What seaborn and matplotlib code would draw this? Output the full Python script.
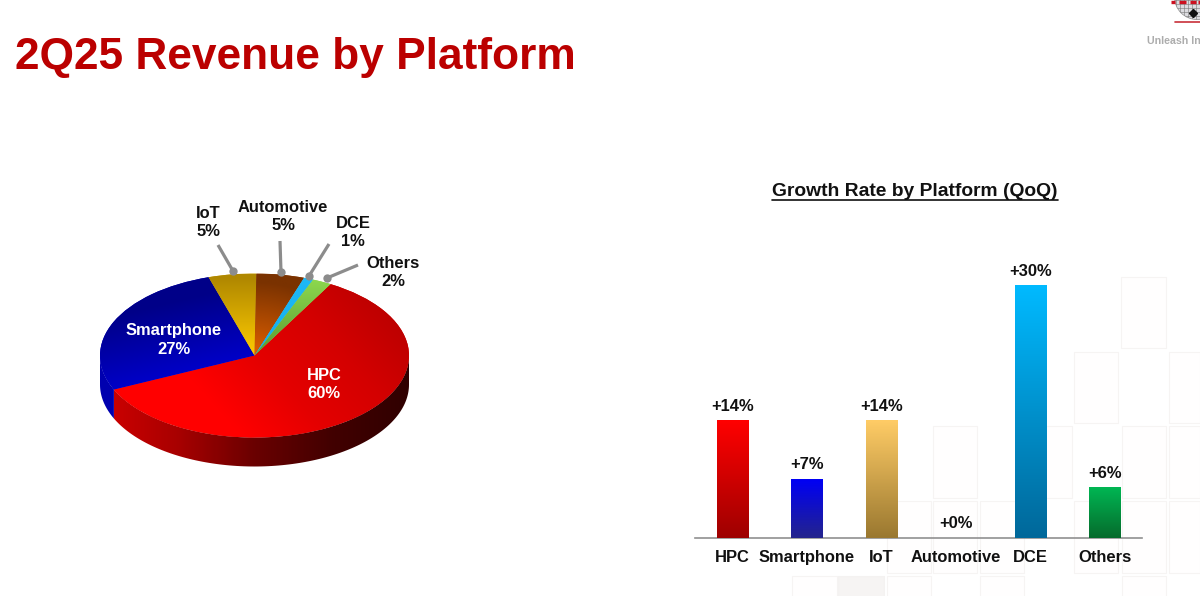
import numpy as np
import matplotlib
matplotlib.use("Agg")
import matplotlib.pyplot as plt
import seaborn as sns
from matplotlib.colors import LinearSegmentedColormap as LSC
from matplotlib.patches import Rectangle, Circle, Polygon

# ---------- data ----------
share_names = ["HPC", "Smartphone", "IoT", "Automotive", "DCE", "Others"]
share_values = [60, 27, 5, 5, 1, 2]
growth_names = ["HPC", "Smartphone", "IoT", "Automotive", "DCE", "Others"]
growth_values = [14, 7, 14, 0, 30, 6]
growth_labels = ["+14%", "+7%", "+14%", "+0%", "+30%", "+6%"]
bar_tops = ["#ff0000", "#0000f5", "#ffcc66", "#d0d0d0", "#00baff", "#00b653"]
bar_bottoms = ["#9e0000", "#24248c", "#9a7830", "#808080", "#00689a", "#066b2c"]

W, H = 1200, 596
sns.set_theme(style="white")
plt.rcParams["font.family"] = ["Liberation Sans", "DejaVu Sans"]
plt.rcParams["font.weight"] = "bold"

fig = plt.figure(figsize=(W / 100, H / 100), dpi=100, facecolor="white")


def px_axes(x0, y0, x1, y1, **kw):
    return fig.add_axes([x0 / W, 1 - y1 / H, (x1 - x0) / W, (y1 - y0) / H], **kw)


# ---------- page layer in pixel coordinates ----------
bg = px_axes(0, 0, W, H)
bg.axis("off")
squares = [(1292, 50, 1428, 265), (1152, 275, 1285, 490), (1436, 275, 1530, 490),
           (728, 497, 862, 715), (1010, 497, 1145, 715), (1295, 497, 1428, 715),
           (1436, 497, 1530, 715), (590, 722, 722, 940), (728, 722, 862, 940),
           (870, 722, 1003, 940), (1152, 722, 1285, 940), (1295, 722, 1428, 940),
           (1436, 722, 1530, 940), (305, 948, 440, 1030), (590, 948, 722, 1030),
           (870, 948, 1003, 1030), (1295, 948, 1428, 1030)]
for a, b, c, d in squares:
    bg.add_patch(Rectangle((690 + a / 3, 260 + b / 3), (c - a) / 3, (d - b) / 3,
                           fc="#fffefe", ec="#f6f4f3", lw=0.8))
bg.add_patch(Rectangle((690 + 445 / 3, 260 + 948 / 3), 137 / 3, 30, fc="#f6f4f3", ec="#f4f2f1", lw=0.8))

bg.text(15, 57, "2Q25 Revenue by Platform", color="#bb0000", fontsize=31.9,
        va="center", ha="left", fontweight="bold")
bg.text(915, 191, "Growth Rate by Platform (QoQ)", color="#111111", fontsize=13.9,
        ha="center", va="center", fontweight="bold")
bg.plot([772, 1058], [200, 200], color="#111111", lw=1.2)

# logo, cut by the page edge
globe = Circle((1197, -3), 22.5, fc="#dcdce0", ec="#9a9a9a", lw=0.6)
bg.add_patch(globe)
for gx in range(1176, 1200, 4):
    bg.plot([gx, gx], [-10, 24], color="#777777", lw=0.4, clip_path=globe)
for gy in range(0, 24, 4):
    bg.plot([1170, 1200], [gy, gy], color="#777777", lw=0.4, clip_path=globe)
bg.plot([1193], [13], marker="D", ms=4, color="#111111")
bg.plot([1175, 1200], [22, 22], color="#c8303a", lw=1.2)
for x0, x1 in [(1171, 1175), (1179, 1186), (1190, 1196), (1198, 1200)]:
    bg.plot([x0, x1], [1.5, 1.5], color="#cc1020", lw=2.4, solid_capstyle="butt")
bg.text(1147, 41, "Unleash In", color="#adadad", fontsize=7.7, va="center", ha="left", fontweight="bold")
bg.set_xlim(0, W)
bg.set_ylim(H, 0)

# ---------- pie ----------
CX, CY, RX, RY, DEPTH = 254.5, 355.5, 154.5, 82, 29
pie_ax = px_axes(CX - RX, CY - RY - 2, CX + RX, CY + RY + DEPTH + 4)
pie_ax.patch.set_alpha(0)
start = 60.5
wedges, _ = pie_ax.pie(share_values, startangle=start, counterclock=False, radius=1,
                       colors=["#d00000", "#0000c0", "#c89a00", "#8a3a00", "#18b0f0", "#80d040"],
                       wedgeprops=dict(lw=0))
pie_ax.set_aspect("auto")
ylo, yhi = -(RY + DEPTH + 4) / RY, (RY + 2) / RY
depth = DEPTH / RY
res = 300
xx, yy = np.meshgrid(np.linspace(-1, 1, res), np.linspace(-1, 1, res))


def grad(values, colors, patch, extent=(-1, 1, -1, 1), zorder=2):
    cmap = LSC.from_list("g", colors)
    im = pie_ax.imshow(values, origin="lower", extent=extent, cmap=cmap, vmin=0, vmax=1,
                       aspect="auto", zorder=zorder, interpolation="bilinear")
    im.set_clip_path(patch)


tops = [
    (np.clip(0.32 + 0.62 * (xx * 0.95 + yy * 0.45), 0, 1), ["#ff0000", "#e40000", "#d40000", "#bc0000"]),
    (np.clip(0.5 + 0.55 * yy - 0.25 * xx, 0, 1), ["#0000ff", "#0000c8", "#000088"]),
    (np.clip(yy * 1.05, 0, 1), ["#ffcc00", "#b08800"]),
    (np.clip(np.hypot(xx * 1.4, yy) * 1.1, 0, 1), ["#e06000", "#7a3200"]),
    (np.clip(yy, 0, 1), ["#12b0f0", "#20b8f5"]),
    (np.clip(yy, 0, 1), ["#5a9a30", "#90dc50"]),
]
for w, (vals, cols) in zip(wedges, tops):
    grad(vals, cols, w, zorder=4)

# extruded rim, built from the same slice angles
angles = start - np.cumsum([0] + share_values) * 3.6


def rim(a_low, a_high):
    t = np.radians(np.linspace(a_low, a_high, 120))
    upper = np.c_[np.cos(t), np.sin(t)]
    lower = (upper - [0, depth])[::-1]
    return np.vstack([upper, lower])


rim_extent = (-1, 1, -1 - depth, 0)
side_xx = np.tile(np.linspace(0, 1, res), (2, 1))
hpc_rim = Polygon(rim(angles[1], 0), closed=True, fc="none", ec="none", transform=pie_ax.transData)
pie_ax.add_patch(hpc_rim)
grad(side_xx, ["#d00000", "#a80000", "#6a0000", "#420000", "#300000"], hpc_rim, rim_extent, zorder=3)
blue_rim = Polygon(rim(-180, angles[1]), closed=True, fc="none", ec="none", transform=pie_ax.transData)
pie_ax.add_patch(blue_rim)
grad(np.full((2, 2), 0.5), ["#0000c0", "#0000a0"], blue_rim, rim_extent, zorder=3)

pie_ax.set_xlim(-1, 1)
pie_ax.set_ylim(ylo, yhi)

# pie labels and leaders on a layer above the pie
fg = px_axes(0, 0, W, H)
fg.set_xlim(0, W)
fg.set_ylim(H, 0)
fg.axis("off")
for (x0, y0), (x1, y1) in [((218, 245), (233, 271)), ((280, 241), (281, 272)),
                           ((329, 244), (309, 276)), ((358, 265), (327, 278))]:
    fg.plot([x0, x1], [y0, y1], color="#8c8c8c", lw=2.3, solid_capstyle="butt")
    fg.plot([x1], [y1], marker="o", ms=6, color="#8c8c8c", mew=0)
pie_text = [("Smartphone\n27%", 174, 340, "white"), ("HPC\n60%", 324, 384, "white"),
            ("IoT\n5%", 208, 223, "#111111"), ("Automotive\n5%", 283, 216, "#111111"),
            ("DCE\n1%", 353, 232, "#111111"), ("Others\n2%", 393, 272, "#111111")]
for txt, x, y, c in pie_text:
    fg.text(x, y, txt, color=c, fontsize=11.9, ha="center", va="center", linespacing=1.25,
            fontweight="bold")

# ---------- bars ----------
bar_ax = px_axes(695, 285, 1142, 537.7)
bar_ax.patch.set_alpha(0)
sns.barplot(x=growth_names, y=growth_values, hue=growth_names, palette=bar_tops,
            width=0.42, legend=False, dodge=False, ax=bar_ax, saturation=1)
for cont, lab in zip(bar_ax.containers, growth_labels):
    bar_ax.bar_label(cont, labels=[lab], padding=4.5, fontsize=11.9, fontweight="bold",
                     color="#111111", clip_on=False)
for cont, c0, c1 in zip(bar_ax.containers, bar_tops, bar_bottoms):
    for p in cont:
        if p.get_height() <= 0:
            continue
        x0, w, h = p.get_x(), p.get_width(), p.get_height()
        bar_ax.imshow(np.linspace(1, 0, 128).reshape(-1, 1), origin="upper",
                      extent=(x0, x0 + w, 0, h), aspect="auto",
                      cmap=LSC.from_list("b", [c1, c0]), vmin=0, vmax=1, zorder=3)
bar_ax.set_xlim(-0.5, 5.5)
bar_ax.set_ylim(0, 30)
bar_ax.set_yticks([])
bar_ax.set_ylabel("")
for s in ["top", "left", "right"]:
    bar_ax.spines[s].set_visible(False)
bar_ax.spines["bottom"].set_color("#909090")
bar_ax.spines["bottom"].set_linewidth(1.2)
bar_ax.tick_params(axis="x", length=0, pad=8.5, labelsize=11.9, colors="#111111")
for t in bar_ax.get_xticklabels():
    t.set_fontweight("bold")

fig.savefig("out.png", dpi=100, facecolor="white")
